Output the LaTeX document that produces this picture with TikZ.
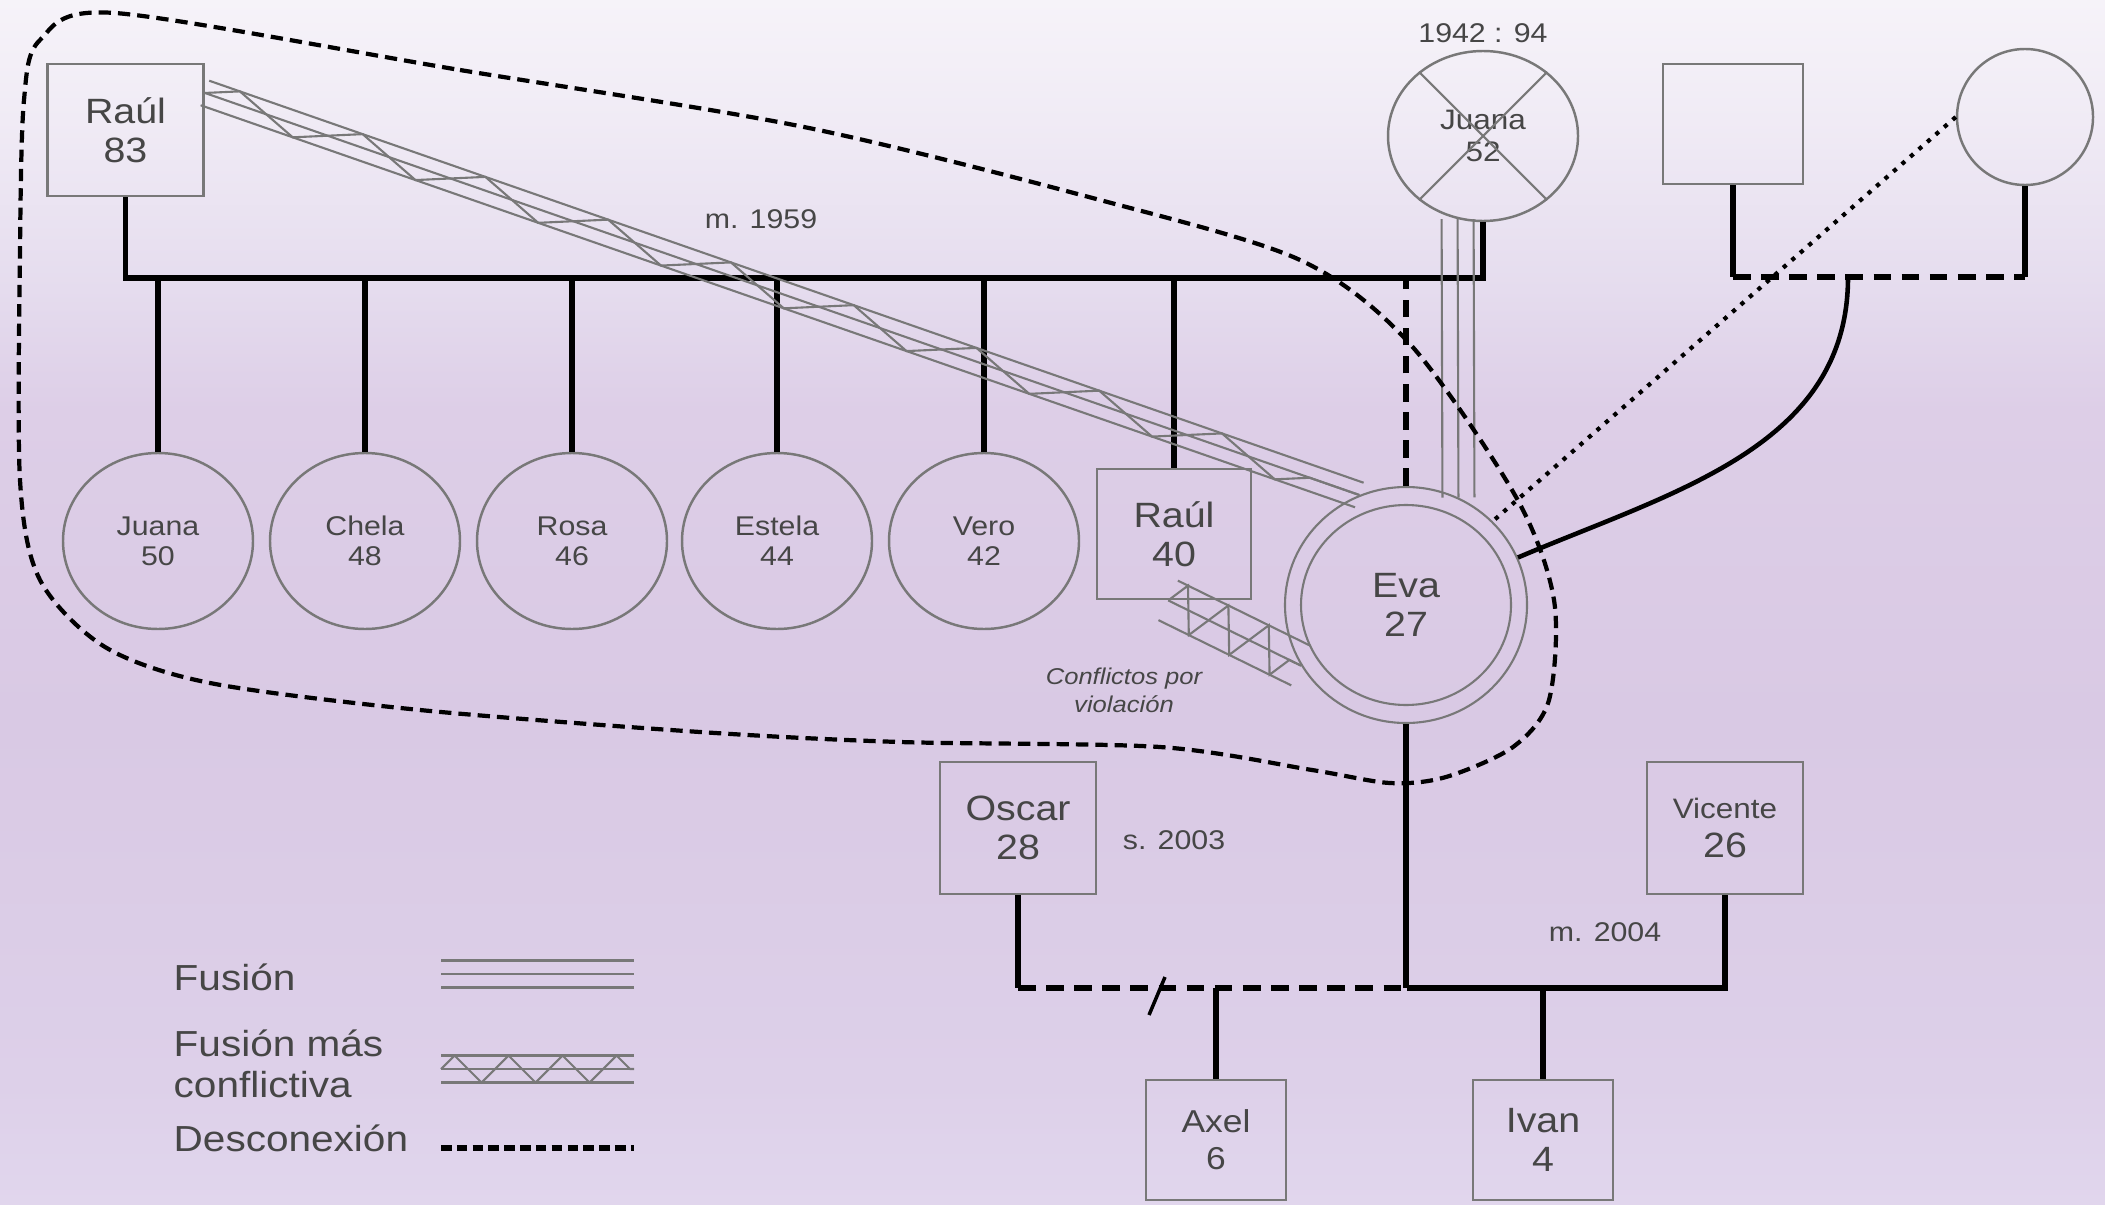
\documentclass[tikz,border=0pt]{standalone}
\usepackage{fontspec}
\setmainfont{Liberation Sans}[FakeStretch=1.12]
\usetikzlibrary{shapes.geometric}
\usetikzlibrary{positioning}
\usetikzlibrary{calc}
\usetikzlibrary{decorations.pathmorphing}
\definecolor{gris}{RGB}{120,120,120}
\definecolor{texto}{RGB}{70,70,70}
\definecolor{fondoA}{RGB}{225,214,237}
\definecolor{fondoB}{RGB}{221,208,233}
\definecolor{fondoC}{RGB}{217,201,228}
\definecolor{fondoD}{RGB}{221,206,231}
\definecolor{fondoE}{RGB}{229,220,238}
\definecolor{fondoF}{RGB}{240,235,245}
\definecolor{fondoG}{RGB}{246,243,249}
\pgfdeclareverticalshading{fondo}{100bp}{color(0bp)=(fondoA); color(25bp)=(fondoA); color(30bp)=(fondoB);
    color(45bp)=(fondoC); color(58bp)=(fondoD); color(63bp)=(fondoE); color(70bp)=(fondoF);
    color(75bp)=(fondoG); color(100bp)=(fondoG)}
\tikzset{
  genograma/.style={
    hombre/.style={rectangle, draw=gris, line width=0.8pt, text=texto, align=center,
        minimum width=1.56cm, minimum height=1.32cm, font={\fontsize{10}{11}\selectfont}},
    hombre chico/.style={hombre, minimum width=1.40cm, minimum height=1.20cm},
    mujer/.style={ellipse, draw=gris, line width=0.7pt, text=texto, align=center, inner sep=1pt,
        minimum width=1.90cm, minimum height=1.76cm, font={\fontsize{7.7}{8.5}\selectfont}},
    lazo/.style={black, line width=1.6pt},
    corte/.style={lazo, dash pattern=on 5pt off 3pt},
    limite/.style={black, line width=1.2pt, dash pattern=on 3.5pt off 2pt},
    fus/.style={gris, line width=0.6pt},
    etiqueta/.style={text=texto, font={\fontsize{7.7}{9}\selectfont}, inner sep=1pt},
    leyenda/.style={text=texto, font={\fontsize{10.3}{11.5}\selectfont}, anchor=west, align=left, inner sep=0pt},
  }
}
\newcommand{\fusion}[3][1.3mm]{
    \draw[fus] (#2) -- (#3);
    \draw[fus] ($(#2)!#1!90:(#3)$) -- ($(#3)!#1!-90:(#2)$);
    \draw[fus] ($(#2)!#1!-90:(#3)$) -- ($(#3)!#1!90:(#2)$);
}
\newcommand{\conflicto}[4][1.3mm]{
    \fusion[#1]{#3}{#4}
    \draw[fus, decorate, decoration={zigzag, amplitude=#1, segment length=#2}] (#3) -- (#4);
}
\begin{document}
\begin{tikzpicture}[genograma]
    \shade[shading=fondo] (0,0) rectangle (21.05,-12.04);
    \useasboundingbox (0,0) rectangle (21.05,-12.04);

    % familia de origen
    \node[hombre] (raul) at (1.255,-1.30) {Raúl\\83};
    \node[mujer, minimum width=1.90cm, minimum height=1.70cm, font={\fontsize{8}{9}\selectfont}] (juana52) at (14.83,-1.36) {Juana\\52};
    \draw[fus] (juana52.45) -- (juana52.225);
    \draw[fus] (juana52.135) -- (juana52.315);
    \node[etiqueta, above=0.03cm of juana52] (fechas) {1942 : 94};
    \node[etiqueta] (boda) at (7.61,-2.19) {m. 1959};

    \foreach \n/\nom/\edad/\x in {juana/Juana/50/1.58, chela/Chela/48/3.65, rosa/Rosa/46/5.72, estela/Estela/44/7.77, vero/Vero/42/9.84}
        \node[mujer] (\n) at (\x,-5.41) {\nom\\\edad};
    \node[hombre, minimum width=1.54cm, minimum height=1.30cm] (raulj) at (11.74,-5.34) {Raúl\\40};
    \node[mujer, minimum width=2.42cm, minimum height=2.36cm, line width=0.6pt,
        font={\fontsize{10}{11}\selectfont}] (eva) at (14.06,-6.05) {Eva\\27};
    \draw[fus] (eva.center) ellipse [x radius=1.05, y radius=1.0];

    \coordinate (hermanos) at (7.0,-2.78);
    \draw[lazo] (raul.south) |- (hermanos) -| (juana52.south);
    \foreach \n in {juana,chela,rosa,estela,vero,raulj}
        \draw[lazo] (\n.north) -- (\n.north |- hermanos);
    \draw[corte] (eva.north) -- (eva.north |- hermanos);

    % relaciones
    \fusion[1.6mm]{juana52.253}{eva.64}
    \conflicto[1.3mm]{1.3cm}{raul.25}{eva.113}
    \conflicto[2.2mm]{0.45cm}{raulj.-95}{eva.210}
    \node[etiqueta, font={\itshape\fontsize{6.5}{8}\selectfont}, align=center] (violencia) at (11.24,-6.90) {Conflictos por\\violación};

    % familia del padre
    \node[hombre chico] (padre) at (17.33,-1.24) {};
    \node[mujer, minimum size=1.36cm] (madre) at (20.25,-1.17) {};
    \coordinate (padres) at (18.48,-2.77);
    \draw[lazo] (padre.south) -- (padre.south |- padres);
    \draw[lazo] (madre.south) -- (madre.south |- padres);
    \draw[corte] (padre.south |- padres) -- (madre.south |- padres);
    \draw[lazo, line width=1.3pt] (padres) to[out=-90, in=23] (eva.23);
    \draw[black, line width=1.2pt, dash pattern=on 1.2pt off 2pt] (madre.west) -- (eva.44);

    % limite de la fusion
    \draw[limite] plot[smooth cycle, tension=0.5] coordinates {
        (1.15,-0.13) (4.6,-0.70) (8.04,-1.27) (11.0,-2.0) (13.0,-2.60) (14.1,-3.44)
        (15.16,-4.97) (15.54,-6.0) (15.49,-7.0) (15.13,-7.47) (14.46,-7.77) (13.9,-7.83)
        (13.12,-7.70) (11.6,-7.47) (9.0,-7.42) (7.0,-7.32) (4.2,-7.10) (2.1,-6.83)
        (1.05,-6.47) (0.40,-5.80) (0.20,-4.8) (0.20,-2.5) (0.24,-1.0) (0.40,-0.40)};

    % familia de Eva
    \node[hombre] (oscar) at (10.18,-8.28) {Oscar\\28};
    \node[hombre] (vicente) at (17.25,-8.28) {{\fontsize{8}{11}\selectfont Vicente}\\26};
    \node[hombre chico, font={\fontsize{9}{10.5}\selectfont}] (axel) at (12.16,-11.40) {Axel\\6};
    \node[hombre chico] (ivan) at (15.43,-11.40) {Ivan\\4};
    \node[etiqueta] (separa) at (11.74,-8.40) {s. 2003};
    \node[etiqueta] (boda2) at (16.05,-9.32) {m. 2004};
    \coordinate (hijos) at (14.07,-9.88);
    \coordinate (ruptura) at (11.57,-9.96);
    \draw[lazo] (eva.south) -- (eva.south |- hijos);
    \draw[lazo] (vicente.south) |- (hijos);
    \draw[lazo] (oscar.south) -- (oscar.south |- hijos);
    \draw[corte] (oscar.south |- hijos) -- (hijos);
    \draw[lazo] (axel.north) -- (axel.north |- hijos);
    \draw[lazo] (ivan.north) -- (ivan.north |- hijos);
    \draw[black, line width=1pt] ($(ruptura)+(0.08,0.19)$) -- ($(ruptura)+(-0.08,-0.19)$);

    % leyenda
    \node[leyenda] (lf) at (1.73,-9.77) {Fusión};
    \node[leyenda] (lc) at (1.73,-10.64) {Fusión más\\conflictiva};
    \node[leyenda] (ld) at (1.73,-11.38) {Desconexión};
    \coordinate (f1) at (4.41,-9.74);
    \coordinate (f2) at (6.34,-9.74);
    \fusion[1.35mm]{f1}{f2}
    \coordinate (c1) at (4.41,-10.69);
    \coordinate (c2) at (6.34,-10.69);
    \conflicto[1.35mm]{0.54cm}{c1}{c2}
    \coordinate (d1) at (4.41,-11.48);
    \coordinate (d2) at (6.34,-11.48);
    \draw[limite, line width=1.6pt, dash pattern=on 3pt off 1.5pt] (d1) -- (d2);
\end{tikzpicture}
\end{document}
